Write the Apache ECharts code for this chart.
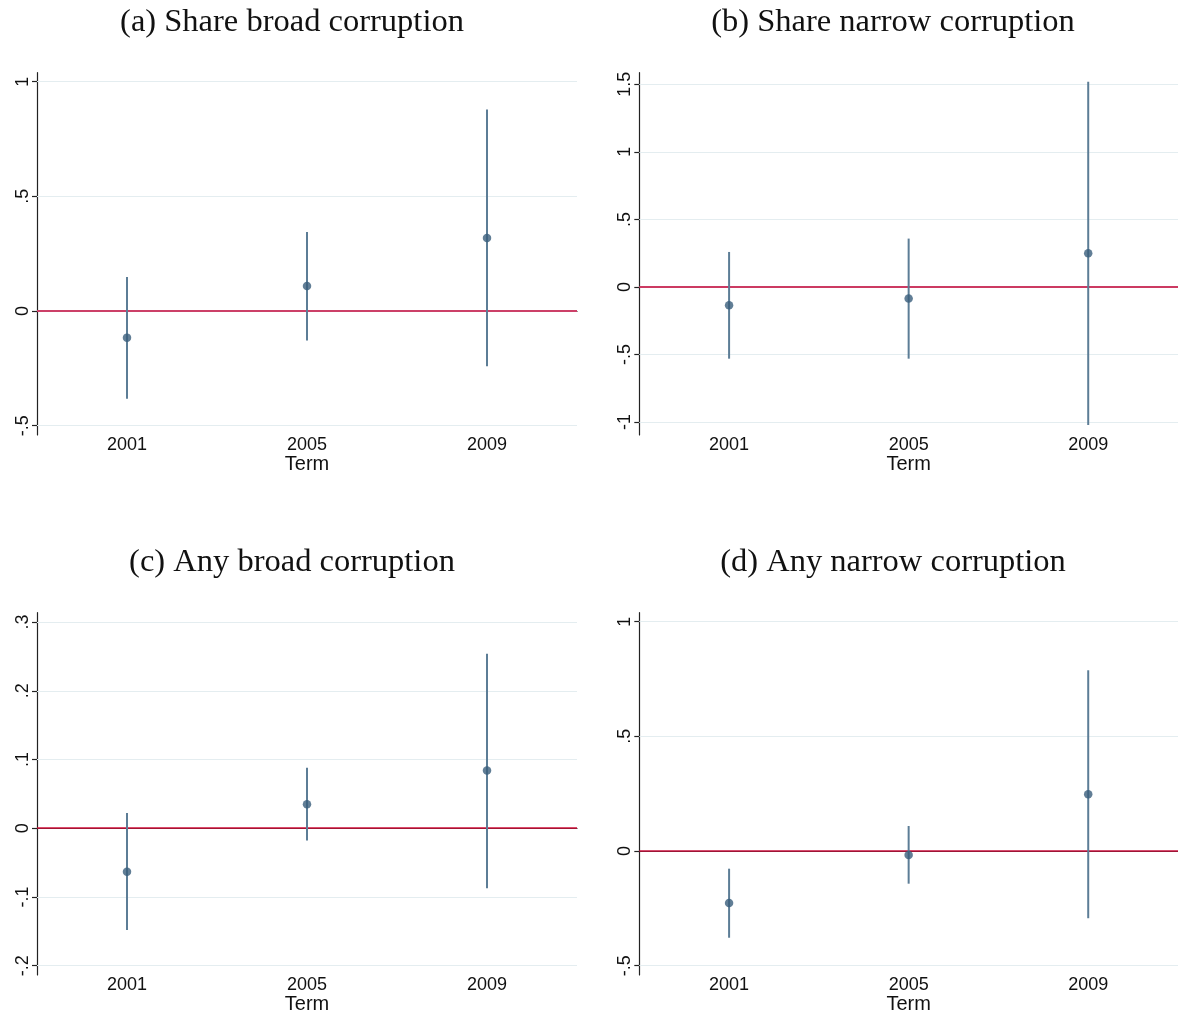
<!DOCTYPE html>
<html>
<head>
<meta charset="utf-8">
<style>
  html, body { margin: 0; padding: 0; background: #fff; }
  #chart { width: 1178px; height: 1016px; }
</style>
<script src="https://cdn.jsdelivr.net/npm/echarts@6/dist/echarts.min.js"></script>
</head>
<body>
<div id="chart"></div>
<script>
// Election terms on the x axis
const terms = ['2001', '2005', '2009'];

// (a) Share broad corruption: point estimate and 95% CI bounds
const shareBroadEst = [-0.116, 0.109, 0.318];
const shareBroadLo  = [-0.382, -0.128, -0.241];
const shareBroadHi  = [0.148, 0.344, 0.879];

// (b) Share narrow corruption
const shareNarrowEst = [-0.136, -0.086, 0.249];
const shareNarrowLo  = [-0.531, -0.531, -1.022];
const shareNarrowHi  = [0.259, 0.358, 1.519];

// (c) Any broad corruption
const anyBroadEst = [-0.0632, 0.0349, 0.0839];
const anyBroadLo  = [-0.148, -0.018, -0.0873];
const anyBroadHi  = [0.0223, 0.0878, 0.2537];

// (d) Any narrow corruption
const anyNarrowEst = [-0.227, -0.0174, 0.247];
const anyNarrowLo  = [-0.378, -0.1424, -0.293];
const anyNarrowHi  = [-0.077, 0.109, 0.788];

// y-axis tick values per panel
const ticksA = [-0.5, 0, 0.5, 1];
const ticksB = [-1, -0.5, 0, 0.5, 1, 1.5];
const ticksC = [-0.2, -0.1, 0, 0.1, 0.2, 0.3];
const ticksD = [-0.5, 0, 0.5, 1];

// panel titles
const titles = [
  '(a) Share broad corruption',
  '(b) Share narrow corruption',
  '(c) Any broad corruption',
  '(d) Any narrow corruption'
];

const panels = [
  { est: shareBroadEst,  lo: shareBroadLo,  hi: shareBroadHi,  ticks: ticksA, min: -0.5405, max: 1.039,  zero: '#cc4068', zw: 2 },
  { est: shareNarrowEst, lo: shareNarrowLo, hi: shareNarrowHi, ticks: ticksB, min: -1.096,  max: 1.586,  zero: '#cc3a62', zw: 1.8 },
  { est: anyBroadEst,    lo: anyBroadLo,    hi: anyBroadHi,    ticks: ticksC, min: -0.2136, max: 0.3136, zero: '#d0103a', zw: 1.5 },
  { est: anyNarrowEst,   lo: anyNarrowLo,   hi: anyNarrowHi,   ticks: ticksD, min: -0.5405, max: 1.039,  zero: '#c8103c', zw: 1.5 }
];

// Stata-style tick labels: ".5" rather than "0.5"
function stataNum(v) {
  let s = String(+Number(v).toFixed(4));
  return s.replace(/^(-?)0\./, '$1.');
}

const gridBoxes = [
  { left: 37,    top: 72.7,  width: 540,   height: 362.3 },
  { left: 639.3, top: 72.7,  width: 538.7, height: 362.3 },
  { left: 37,    top: 612.7, width: 540,   height: 362.3 },
  { left: 639.3, top: 612.7, width: 538.7, height: 362.3 }
];
const titlePos = [
  { left: 292, top: 6 },
  { left: 893, top: 6 },
  { left: 292, top: 546 },
  { left: 893, top: 546 }
];

const markColor = '#3a5e7c';
const ciColor = '#5c7d96';
const axisColor = '#222';
const gridColor = '#e4edf0';
const labelFont = 'Liberation Sans, Arial, Helvetica, sans-serif';

const option = {
  backgroundColor: '#ffffff',
  animation: false,
  title: titles.map((t, i) => ({
    text: t,
    left: titlePos[i].left,
    top: titlePos[i].top,
    textAlign: 'center',
    padding: 0,
    textStyle: {
      fontFamily: 'Liberation Serif, Times New Roman, serif',
      fontWeight: 'normal',
      fontSize: 32.5,
      lineHeight: 32,
      color: '#111'
    }
  })),
  grid: gridBoxes.map(g => Object.assign({ containLabel: false }, g)),
  xAxis: panels.map((p, i) => ({
    type: 'category',
    gridIndex: i,
    data: terms,
    boundaryGap: true,
    name: 'Term',
    nameLocation: 'middle',
    nameGap: 18,
    nameTextStyle: { fontFamily: labelFont, fontSize: 20, color: '#111', verticalAlign: 'top' },
    axisLine: { show: true, lineStyle: { color: axisColor, width: 1.2 } },
    axisTick: { show: false },
    axisLabel: { fontFamily: labelFont, fontSize: 18, color: '#111', margin: 1 },
    splitLine: { show: false }
  })),
  yAxis: panels.map((p, i) => ({
    type: 'value',
    gridIndex: i,
    min: p.min,
    max: p.max,
    axisLine: { show: true, lineStyle: { color: axisColor, width: 1.2 } },
    axisTick: { show: true, length: 5, customValues: p.ticks, lineStyle: { color: axisColor, width: 1.2 } },
    axisLabel: {
      customValues: p.ticks,
      rotate: 90,
      margin: 5,
      fontFamily: labelFont,
      fontSize: 18,
      color: '#111',
      formatter: v => stataNum(v)
    },
    splitLine: { show: false }
  })),
  series: []
};

panels.forEach((p, i) => {
  // light horizontal gridlines at each tick
  option.series.push({
    type: 'line',
    xAxisIndex: i,
    yAxisIndex: i,
    data: [],
    silent: true,
    z: 1,
    markLine: {
      silent: true,
      z: 1,
      symbol: 'none',
      label: { show: false },
      lineStyle: { color: gridColor, width: 1.2, type: 'solid' },
      data: p.ticks.filter(t => t !== 0).map(t => ({ yAxis: t }))
    }
  });
  // zero reference line
  option.series.push({
    type: 'line',
    xAxisIndex: i,
    yAxisIndex: i,
    data: [],
    silent: true,
    z: 2,
    markLine: {
      silent: true,
      z: 2,
      symbol: 'none',
      label: { show: false },
      lineStyle: { color: p.zero, width: p.zw, type: 'solid' },
      data: [{ yAxis: 0 }]
    }
  });
  // confidence interval spikes
  option.series.push({
    type: 'custom',
    xAxisIndex: i,
    yAxisIndex: i,
    z: 4,
    data: terms.map((t, k) => [k, p.lo[k], p.hi[k]]),
    renderItem: (params, api) => {
      const a = api.coord([api.value(0), api.value(1)]);
      const b = api.coord([api.value(0), api.value(2)]);
      return {
        type: 'line',
        shape: { x1: a[0], y1: a[1], x2: b[0], y2: b[1] },
        style: { stroke: ciColor, lineWidth: 2 }
      };
    }
  });
  // point estimates
  option.series.push({
    type: 'scatter',
    xAxisIndex: i,
    yAxisIndex: i,
    z: 5,
    symbol: 'circle',
    symbolSize: 8.5,
    itemStyle: { color: markColor },
    data: terms.map((t, k) => [k, p.est[k]])
  });
});

const chart = echarts.init(document.getElementById('chart'), null, { renderer: 'canvas' });
chart.setOption(option);
</script>
</body>
</html>
